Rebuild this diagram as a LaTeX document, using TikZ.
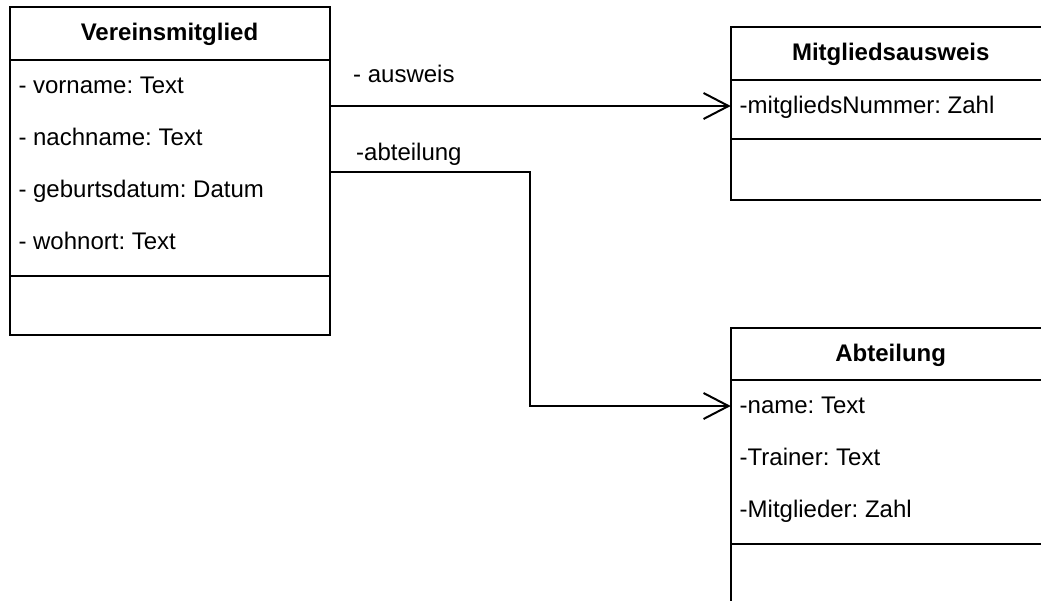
\documentclass[tikz,border=0pt]{standalone}
\usepackage{fontspec}
\setmainfont{Liberation Sans}
\usetikzlibrary{arrows.meta,positioning}

\tikzset{
	umlfont/.style={font=\fontsize{24}{29}\selectfont\frenchspacing},
	classpart/.style={draw, line width=2pt, minimum width=320pt, inner sep=0pt, outer sep=0pt, anchor=north},
	classtitle/.style={classpart, font=\fontsize{24}{29}\selectfont\bfseries, text height=19pt, text depth=4pt},
	attrrow/.style={umlfont, anchor=north west, minimum height=52pt, inner xsep=9pt, inner ysep=0pt, outer sep=0pt, text height=19pt, text depth=4pt},
	assoc/.style={line width=2pt, -{Straight Barb[length=25pt, width=26pt]}},
	rolelbl/.style={umlfont, anchor=base west, inner sep=0pt}
}

\begin{document}
\begin{tikzpicture}[x=1pt,y=-1pt]
		\useasboundingbox (0,0) rectangle (1041,600);
		\clip (0,0) rectangle (1041,600);
		
		% Vereinsmitglied
		\node[classtitle, minimum height=52.5pt] (vmtitle) at (169.5,7) {Vereinsmitglied};
		\node[classpart, minimum height=216pt, below=0pt of vmtitle] (vmattr) {};
		\node[classpart, minimum height=59.5pt, below=0pt of vmattr] (vmops) {};
		\node[attrrow] (vm1) at (vmattr.north west) {- vorname: Text};
		\node[attrrow] (vm2) at (vm1.south west) {- nachname: Text};
		\node[attrrow] (vm3) at (vm2.south west) {- geburtsdatum: Datum};
		\node[attrrow] (vm4) at (vm3.south west) {- wohnort: Text};
		
		% Mitgliedsausweis
		\node[classtitle, minimum height=53.3pt] (matitle) at (890.7,26.7) {Mitgliedsausweis};
		\node[classpart, minimum height=59pt, below=0pt of matitle] (maattr) {};
		\node[classpart, minimum height=61pt, below=0pt of maattr] (maops) {};
		\node[attrrow] (ma1) at (maattr.north west) {-mitgliedsNummer: Zahl};
		
		% Abteilung
		\node[classtitle, minimum height=51.7pt] (abtitle) at (890.7,328.3) {Abteilung};
		\node[classpart, minimum height=164.3pt, below=0pt of abtitle] (abattr) {};
		\node[classpart, minimum height=60pt, below=0pt of abattr] (abops) {};
		\node[attrrow] (ab1) at (abattr.north west) {-name: Text};
		\node[attrrow] (ab2) at (ab1.south west) {-Trainer: Text};
		\node[attrrow] (ab3) at (ab2.south west) {-Mitglieder: Zahl};
		
		% Assoziationen
		\draw[assoc] (ma1.west -| vmattr.east) -- (ma1.west);
		\draw[assoc] ([yshift=-4pt]vmattr.east) -- ++(200.5,0) |- (ab1.west);
		\node[rolelbl] (lausweis) at (353,82) {- ausweis};
		\node[rolelbl] (labteilung) at (356,160) {-abteilung};
\end{tikzpicture}
\end{document}
